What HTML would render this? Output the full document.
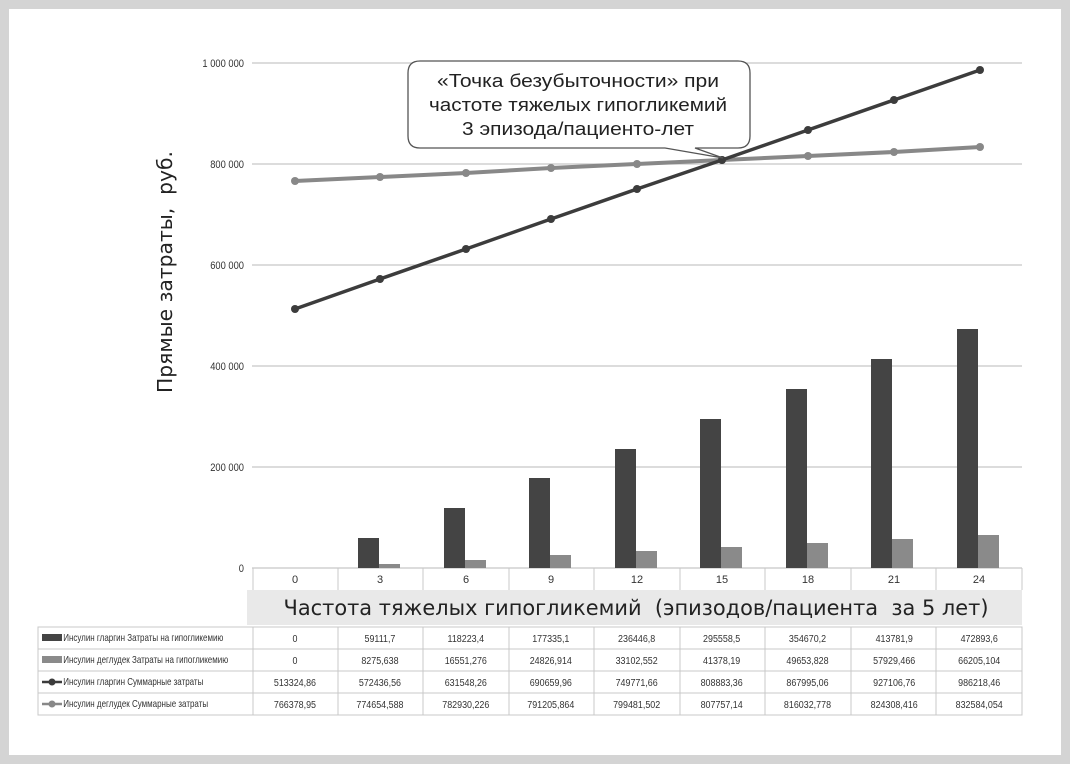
<!DOCTYPE html>
<html><head><meta charset="utf-8"><style>
html,body{margin:0;padding:0;background:#fff}
svg{display:block}
text{font-family:"Liberation Sans","DejaVu Sans",sans-serif}
.dj{font-family:"DejaVu Sans","Liberation Sans",sans-serif}
</style></head><body>
<svg width="1070" height="764" viewBox="0 0 1070 764" xmlns="http://www.w3.org/2000/svg">
<rect x="0" y="0" width="1070" height="764" fill="#d4d4d4"/>
<rect x="9" y="9" width="1052" height="746" fill="#fff"/>
<g stroke="#c8c8c8" stroke-width="1.2">
<line x1="252" y1="63" x2="1022" y2="63"/>
<line x1="252" y1="164" x2="1022" y2="164"/>
<line x1="252" y1="265" x2="1022" y2="265"/>
<line x1="252" y1="366" x2="1022" y2="366"/>
<line x1="252" y1="467" x2="1022" y2="467"/>
<line x1="252" y1="568" x2="1022" y2="568"/>
</g>
<g font-size="11" fill="#333" text-anchor="end" transform="scale(0.85,1)">
<text x="287" y="67">1 000 000</text>
<text x="287" y="168">800 000</text>
<text x="287" y="269">600 000</text>
<text x="287" y="370">400 000</text>
<text x="287" y="471">200 000</text>
<text x="287" y="572">0</text>
</g>
<text class="dj" transform="translate(172,272) rotate(-90)" text-anchor="middle" font-size="20" fill="#222" textLength="242" lengthAdjust="spacingAndGlyphs" xml:space="preserve">Прямые затраты,  руб.</text>
<g fill="#444">
<rect x="358" y="538" width="21" height="30"/>
<rect x="444" y="508" width="21" height="60"/>
<rect x="529" y="478" width="21" height="90"/>
<rect x="615" y="449" width="21" height="119"/>
<rect x="700" y="419" width="21" height="149"/>
<rect x="786" y="389" width="21" height="179"/>
<rect x="871" y="359" width="21" height="209"/>
<rect x="957" y="329" width="21" height="239"/>
</g>
<g fill="#8a8a8a">
<rect x="379" y="564" width="21" height="4"/>
<rect x="465" y="560" width="21" height="8"/>
<rect x="550" y="555" width="21" height="13"/>
<rect x="636" y="551" width="21" height="17"/>
<rect x="721" y="547" width="21" height="21"/>
<rect x="807" y="543" width="21" height="25"/>
<rect x="892" y="539" width="21" height="29"/>
<rect x="978" y="535" width="21" height="33"/>
</g>
<polyline fill="none" stroke="#888" stroke-width="4" points="295,181 380,177 466,173 551,168 637,164 722,160 808,156 894,152 980,147"/>
<g fill="#888"><circle cx="295" cy="181" r="4"/><circle cx="380" cy="177" r="4"/><circle cx="466" cy="173" r="4"/><circle cx="551" cy="168" r="4"/><circle cx="637" cy="164" r="4"/><circle cx="722" cy="160" r="4"/><circle cx="808" cy="156" r="4"/><circle cx="894" cy="152" r="4"/><circle cx="980" cy="147" r="4"/></g>
<polyline fill="none" stroke="#3c3c3c" stroke-width="3.5" points="295,309 380,279 466,249 551,219 637,189 722,160 808,130 894,100 980,70"/>
<g fill="#3c3c3c"><circle cx="295" cy="309" r="4"/><circle cx="380" cy="279" r="4"/><circle cx="466" cy="249" r="4"/><circle cx="551" cy="219" r="4"/><circle cx="637" cy="189" r="4"/><circle cx="722" cy="160" r="4"/><circle cx="808" cy="130" r="4"/><circle cx="894" cy="100" r="4"/><circle cx="980" cy="70" r="4"/></g>
<path d="M420,61 H738 Q750,61 750,73 V136 Q750,148 738,148 H695 L723,158 L665,148 H420 Q408,148 408,136 V73 Q408,61 420,61 Z" fill="#fff" stroke="#555" stroke-width="1.3"/>
<g class="dj" font-size="18.5" fill="#222" text-anchor="middle">
<text x="578" y="87" textLength="282" lengthAdjust="spacingAndGlyphs">«Точка безубыточности» при</text>
<text x="578" y="111" textLength="298" lengthAdjust="spacingAndGlyphs">частоте тяжелых гипогликемий</text>
<text x="578" y="135" textLength="232" lengthAdjust="spacingAndGlyphs">3 эпизода/пациенто-лет</text>
</g>
<g stroke="#c8c8c8" stroke-width="1">
<line x1="253" y1="568" x2="253" y2="590"/><line x1="338" y1="568" x2="338" y2="590"/><line x1="423" y1="568" x2="423" y2="590"/><line x1="509" y1="568" x2="509" y2="590"/><line x1="594" y1="568" x2="594" y2="590"/><line x1="680" y1="568" x2="680" y2="590"/><line x1="765" y1="568" x2="765" y2="590"/><line x1="851" y1="568" x2="851" y2="590"/><line x1="936" y1="568" x2="936" y2="590"/><line x1="1022" y1="568" x2="1022" y2="590"/>
</g>
<g font-size="11" fill="#333" text-anchor="middle">
<text x="295" y="583">0</text><text x="380" y="583">3</text><text x="466" y="583">6</text><text x="551" y="583">9</text><text x="637" y="583">12</text><text x="722" y="583">15</text><text x="808" y="583">18</text><text x="894" y="583">21</text><text x="979" y="583">24</text>
</g>
<rect x="247" y="590" width="775" height="35" fill="#e9e9e9"/>
<text class="dj" x="636" y="615" font-size="21" fill="#222" text-anchor="middle" textLength="705" lengthAdjust="spacingAndGlyphs" xml:space="preserve">Частота тяжелых гипогликемий  (эпизодов/пациента  за 5 лет)</text>
<g stroke="#c8c8c8" stroke-width="1" fill="none">
<rect x="38" y="627" width="984" height="88"/>
<line x1="38" y1="649" x2="1022" y2="649"/><line x1="38" y1="671" x2="1022" y2="671"/><line x1="38" y1="693" x2="1022" y2="693"/>
<line x1="253" y1="627" x2="253" y2="715"/><line x1="338" y1="627" x2="338" y2="715"/><line x1="423" y1="627" x2="423" y2="715"/><line x1="509" y1="627" x2="509" y2="715"/><line x1="594" y1="627" x2="594" y2="715"/><line x1="680" y1="627" x2="680" y2="715"/><line x1="765" y1="627" x2="765" y2="715"/><line x1="851" y1="627" x2="851" y2="715"/><line x1="936" y1="627" x2="936" y2="715"/>
</g>
<rect x="42" y="634" width="20" height="7" fill="#444"/>
<rect x="42" y="656" width="20" height="7" fill="#8a8a8a"/>
<line x1="42" y1="682" x2="62" y2="682" stroke="#3c3c3c" stroke-width="2.5"/><circle cx="52" cy="682" r="3.5" fill="#3c3c3c"/>
<line x1="42" y1="704" x2="62" y2="704" stroke="#888" stroke-width="2.5"/><circle cx="52" cy="704" r="3.5" fill="#888"/>
<g font-size="10" fill="#333" transform="scale(0.8,1)">
<text x="79" y="641">Инсулин гларгин Затраты на гипогликемию</text>
<text x="79" y="663">Инсулин деглудек Затраты на гипогликемию</text>
<text x="79" y="685">Инсулин гларгин Суммарные затраты</text>
<text x="79" y="707">Инсулин деглудек Суммарные затраты</text>
</g>
<g font-size="10.5" fill="#333" text-anchor="middle" transform="scale(0.85,1)">
<text x="347" y="642">0</text><text x="447" y="642">59111,7</text><text x="548" y="642">118223,4</text><text x="648" y="642">177335,1</text><text x="749" y="642">236446,8</text><text x="849" y="642">295558,5</text><text x="950" y="642">354670,2</text><text x="1052" y="642">413781,9</text><text x="1152" y="642">472893,6</text>
<text x="347" y="664">0</text><text x="447" y="664">8275,638</text><text x="548" y="664">16551,276</text><text x="648" y="664">24826,914</text><text x="749" y="664">33102,552</text><text x="849" y="664">41378,19</text><text x="950" y="664">49653,828</text><text x="1052" y="664">57929,466</text><text x="1152" y="664">66205,104</text>
<text x="347" y="686">513324,86</text><text x="447" y="686">572436,56</text><text x="548" y="686">631548,26</text><text x="648" y="686">690659,96</text><text x="749" y="686">749771,66</text><text x="849" y="686">808883,36</text><text x="950" y="686">867995,06</text><text x="1052" y="686">927106,76</text><text x="1152" y="686">986218,46</text>
<text x="347" y="708">766378,95</text><text x="447" y="708">774654,588</text><text x="548" y="708">782930,226</text><text x="648" y="708">791205,864</text><text x="749" y="708">799481,502</text><text x="849" y="708">807757,14</text><text x="950" y="708">816032,778</text><text x="1052" y="708">824308,416</text><text x="1152" y="708">832584,054</text>
</g>
</svg>
</body></html>
